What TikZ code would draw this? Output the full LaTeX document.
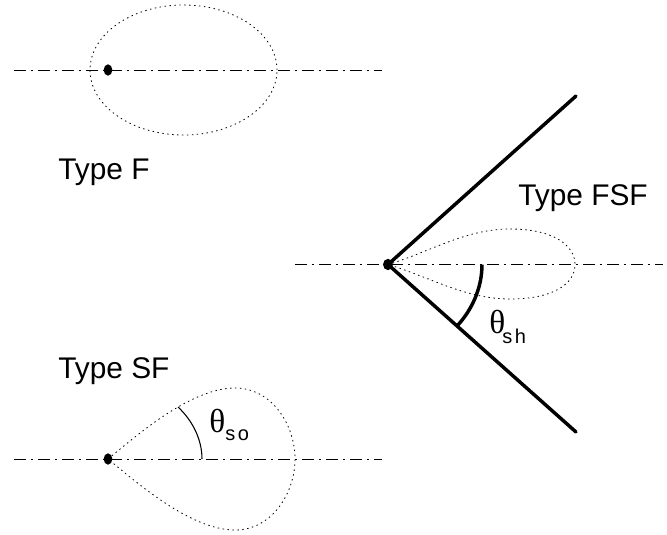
\documentclass[tikz,border=0pt]{standalone}
\usepackage{fontspec}
\setmainfont{Liberation Sans}
\newfontfamily\thetafont{Liberation Serif}
\tikzset{
  axisline/.style={line width=0.6pt,dash pattern=on 9pt off 3.5pt on 2pt off 3.5pt},
  lobe/.style={line width=0.6pt,dash pattern=on 1.1pt off 2.6pt},
  wall/.style={line width=2.6pt,line cap=round},
  source/.style={fill=black,draw=none,ellipse,minimum width=6.5pt,minimum height=8.5pt,inner sep=0pt},
  typelabel/.style={font=\fontsize{22.4}{26}\selectfont,inner sep=0pt,anchor=base west},
  anglelabel/.style={font=\fontsize{25}{28}\thetafont,inner sep=0pt,anchor=base west},
  sublabel/.style={font=\fontsize{15}{18}\selectfont,inner sep=0pt,anchor=base west}
}
\usetikzlibrary{shapes.geometric}
\begin{document}
\begin{tikzpicture}[x=0.75pt,y=-0.75pt]
\useasboundingbox (0,0) rectangle (667,535);
% Type F
\coordinate (fl) at (14,70);
\coordinate (fr) at (382,70);
\draw[axisline] (fl) -- (fr);
\node[draw,lobe,ellipse,minimum width=140.25pt,minimum height=97.5pt,inner sep=0pt] (flobe) at (183.5,70) {};
\node[source] (fs) at (108,70) {};
\node[typelabel] (ft) at (58,179) {Type F};
% Type SF
\coordinate (sl) at (14,459);
\coordinate (sr) at (382,459);
\draw[axisline] (sl) -- (sr);
\node[source] (ss) at (108,459) {};
\coordinate (stop) at (235,388);
\coordinate (sbot) at (235,530);
\coordinate (sright) at (295,459);
\draw[lobe] (ss.center) .. controls (135,437) and (190,388) .. (stop)
  .. controls (272,388) and (295,425) .. (sright)
  .. controls (295,493) and (272,530) .. (sbot)
  .. controls (190,530) and (135,481) .. (ss.center);
\coordinate (sa1) at (178,407);
\coordinate (sa2) at (202,459);
\draw[line width=0.8pt] (sa1) .. controls (193,421) and (202,440) .. (sa2);
\node[typelabel] (st) at (58,378) {Type SF};
\node[anglelabel] (sth) at (209,432) {θ};
\node[sublabel] (ssub) at (225,440) {s\kern2pt o};
% Type FSF
\coordinate (al) at (295,264.5);
\coordinate (ar) at (663,264.5);
\draw[axisline] (al) -- (ar);
\node[source,minimum width=7.5pt,minimum height=8.5pt] (as) at (388,264.5) {};
\coordinate (wt) at (576,96);
\coordinate (wb) at (576,432);
\draw[wall] (as.center) -- (wt);
\draw[wall] (as.center) -- (wb);
\coordinate (atop) at (510,229);
\coordinate (abot) at (510,299);
\coordinate (aright) at (575,264.5);
\draw[lobe] (as.center) .. controls (430,252) and (465,229) .. (atop)
  .. controls (553,229) and (575,245) .. (aright)
  .. controls (575,284) and (553,299) .. (abot)
  .. controls (465,299) and (430,277) .. (as.center);
\coordinate (aa1) at (482,264.5);
\coordinate (aa2) at (457,326);
\draw[line width=2.6pt] (aa1) .. controls (482,288) and (472,310) .. (aa2);
\node[typelabel] (at) at (518,205) {Type FSF};
\node[anglelabel] (ath) at (489,333) {θ};
\node[sublabel] (asub) at (502,343) {s\kern2pt h};
\end{tikzpicture}
\end{document}
